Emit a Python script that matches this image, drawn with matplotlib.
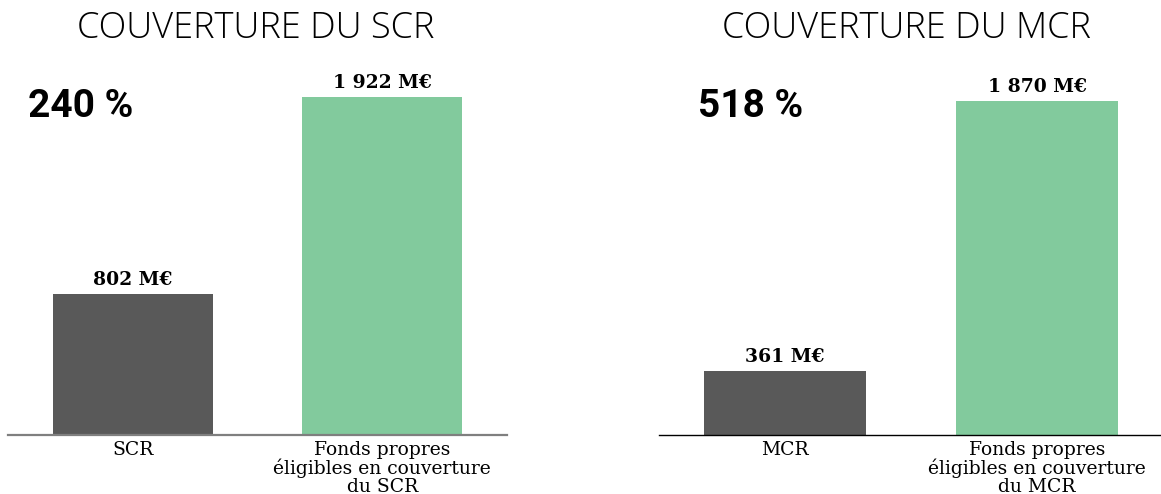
import numpy as np
import matplotlib.pyplot as plt

# values (M€)
scr_labels = ["SCR", "Fonds propres\néligibles en couverture\ndu SCR"]
scr_values = [802, 1922]
mcr_labels = ["MCR", "Fonds propres\néligibles en couverture\ndu MCR"]
mcr_values = [361, 1870]
ratios = ["240 %", "518 %"]
titles = ["COUVERTURE DU SCR", "COUVERTURE DU MCR"]

colors = ["#595959", "#82CA9D"]

fig = plt.figure(figsize=(11.61, 4.94), dpi=100)
W, H = 1161, 494

def make_ax(x0, x1, ytop, ybot):
    return fig.add_axes([x0 / W, 1 - ybot / H, (x1 - x0) / W, (ybot - ytop) / H])

ax1 = make_ax(8, 507, 60, 435)
ax2 = make_ax(659, 1163, 60, 435)

def fmt(v):
    return f"{v:,}".replace(",", " ") + " M€"

def draw(ax, labels, values, ytop, title, ratio, ratio_x, line_color, line_w, title_x):
    x = np.arange(len(values))
    bars = ax.bar(x, values, width=0.643, color=colors)
    ax.set_xlim(-0.5, 1.5)
    ax.set_ylim(0, ytop)
    for b, v in zip(bars, values):
        ax.text(b.get_x() + b.get_width() / 2, v + ytop * 0.012, fmt(v),
                ha="center", va="bottom", family="DejaVu Serif",
                fontweight="bold", fontsize=13.5)
    ax.set_xticks(x)
    ax.set_xticklabels(labels, family="DejaVu Serif", fontsize=13.5,
                       linespacing=1.0, va="top")
    ax.tick_params(axis="x", length=0, pad=4)
    ax.set_yticks([])
    for s in ["top", "right", "left"]:
        ax.spines[s].set_visible(False)
    ax.spines["bottom"].set_color(line_color)
    ax.spines["bottom"].set_linewidth(line_w)
    ax.text(title_x, 1.085, title, transform=ax.transAxes, ha="center",
            va="center", family="Open Sans", fontweight="light", fontsize=26)
    ax.text(ratio_x, 0.875, ratio, transform=ax.transAxes, ha="left",
            va="center", family="Roboto", fontweight="bold", fontsize=28)

draw(ax1, scr_labels, scr_values, 1922 * 375 / 338, titles[0], ratios[0],
     0.04, "#7f7f7f", 1.6, 0.497)
draw(ax2, mcr_labels, mcr_values, 1870 * 375 / 334, titles[1], ratios[1],
     0.077, "black", 1.0, 0.49)

fig.savefig("out.png", dpi=100)
